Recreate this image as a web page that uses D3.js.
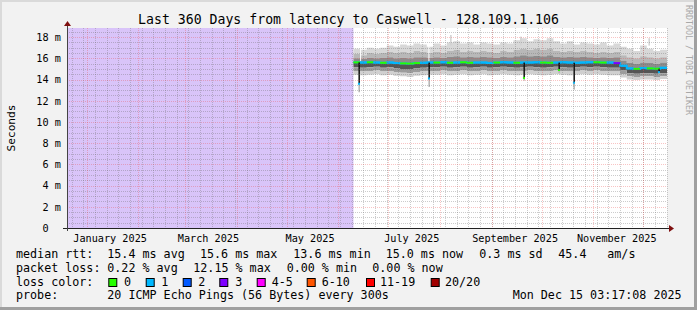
<!DOCTYPE html>
<html lang="en">
<head>
<meta charset="UTF-8">
<script src="https://d3js.org/d3.v7.min.js"></script>
<title>Last 360 Days from latency to Caswell</title>
<style>
  body { margin: 0; background: #f2f2f2; overflow: hidden; }
  text { font-family: "DejaVu Sans Mono", monospace; fill: #000; }
</style>
</head>
<body>
<div id="chart"></div>
<script>
// ---- values ----
var title = "Last 360 Days from latency to Caswell - 128.109.1.106";
var timeStart = new Date(Date.UTC(2024, 11, 20, 3, 17, 8));
var timeEnd = new Date(Date.UTC(2025, 11, 15, 3, 17, 8));
var firstSample = new Date(Date.UTC(2025, 5, 10));   // no data (purple) before this
var sampleStepDays = 4;

// one value per 4-day sample, Jun 10 .. Dec 11 (ms)
var medianMs = [15.62,15.6,15.63,15.6,15.58,15.6, 15.55,15.52,15.5,15.55,15.58,15.6,
  15.6,15.62,15.58,15.6,15.63,15.58, 15.6,15.6,15.57,15.6,15.62,15.6,
  15.58,15.6,15.6,15.62,15.6,15.58, 15.6,15.62,15.6,15.58,15.6,15.62,
  15.63,15.6,15.6,15.55,15.3,15.05, 15.0,15.08,15.05,15.02,15.1];
var lossPings = [0,1,0,1,0,1, 1,0,0,0,1,1, 0,1,0,1,0,0, 1,1,1,0,1,1,
  0,1,1,1,0,0, 1,1,1,1,1,1, 0,0,1,3,1,1, 0,1,0,0,1];
var maxMs = [16.9,16.8,17.0,16.9,17.0,17.2, 17.1,17.3,17.2,17.4,17.3,17.1,
  17.4,17.2,17.5,17.6,17.4,17.5, 17.3,17.5,17.4,17.3,17.5,17.4,
  17.7,17.9,17.6,17.8,17.7,17.9, 17.6,17.4,17.6,17.3,17.5,17.4,
  17.3,17.5,17.2,17.4,17.1,16.9, 16.7,17.2,16.9,16.7,16.8];
var p90Ms = [16.4,16.3,16.5,16.4,16.5,16.6, 16.5,16.6,16.5,16.7,16.6,16.5,
  16.6,16.5,16.7,16.8,16.6,16.7, 16.6,16.7,16.6,16.5,16.7,16.6,
  16.8,16.9,16.8,16.9,16.8,16.9, 16.7,16.6,16.7,16.6,16.7,16.6,
  16.5,16.6,16.5,16.6,16.3,16.1, 16.0,16.2,16.1,16.0,16.1];
var p75Ms = [16.0,15.95,16.05,16.0,16.05,16.1, 16.0,16.05,16.0,16.1,16.1,16.05,
  16.1,16.05,16.15,16.2,16.1,16.15, 16.1,16.15,16.1,16.05,16.15,16.1,
  16.2,16.3,16.2,16.25,16.2,16.3, 16.15,16.1,16.15,16.1,16.15,16.1,
  16.05,16.1,16.05,16.1,15.8,15.55, 15.5,15.6,15.55,15.5,15.6];
var p25Ms = [15.15,15.1,15.15,15.2,15.1,15.15, 15.05,15.0,15.0,15.05,15.1,15.15,
  15.15,15.2,15.1,15.15,15.2,15.1, 15.15,15.2,15.1,15.15,15.2,15.15,
  15.1,15.15,15.2,15.15,15.1,15.15, 15.2,15.15,15.1,15.15,15.2,15.15,
  15.2,15.15,15.1,15.1,14.85,14.6, 14.55,14.6,14.6,14.55,14.6];
var p10Ms = [14.8,14.75,14.8,14.85,14.75,14.8, 14.7,14.65,14.6,14.7,14.75,14.8,
  14.8,14.85,14.75,14.8,14.85,14.75, 14.8,14.85,14.75,14.8,14.85,14.8,
  14.75,14.8,14.85,14.8,14.75,14.8, 14.85,14.8,14.75,14.8,14.85,14.8,
  14.85,14.8,14.75,14.75,14.5,14.3, 14.25,14.3,14.3,14.25,14.3];
var minMs = [14.45,14.4,14.45,14.5,14.4,14.45, 14.35,14.3,14.25,14.35,14.4,14.45,
  14.45,14.5,14.4,14.45,14.5,14.4, 14.45,14.5,14.4,14.45,14.5,14.45,
  14.4,14.45,14.5,14.45,14.4,14.45, 14.5,14.45,14.4,14.45,14.5,14.45,
  14.5,14.45,14.4,14.4,14.2,14.0, 13.95,14.0,14.0,13.95,14.05];

// short downward dips of the median
var dipDates = ["2025-06-13","2025-07-25","2025-09-20","2025-10-11","2025-10-20","2025-12-10"];
var dipLowMs = [13.6, 14.1, 14.15, 14.9, 13.7, 14.7];
var dipTailMs = [12.8, 13.3, 13.9, 14.6, 13.05, 14.4];
var dipLoss = [1, 1, 0, 0, 1, 1];
// narrow upward peaks of the smoke
var peakDates = ["2025-08-07","2025-09-18","2025-12-04"];
var peakMs = [18.2, 18.05, 17.9];
// single missing pixels in the smoke
var gapDates = ["2025-06-14","2025-07-25"];

var yTicks = [0,2,4,6,8,10,12,14,16,18];
var yMax = 18.86;

var lossLabels = ["0","1","2","3","4-5","6-10","11-19","20/20"];
var lossColors = ["#26ff00","#00b8ff","#0059ff","#7e00ff","#ff00ff","#ff5500","#ff0000","#a10000"];
var rttStats = ["15.4 ms avg","15.6 ms max","13.6 ms min","15.0 ms now","0.3 ms sd","45.4","am/s"];
var lossStats = ["0.22 % avg","12.15 % max","0.00 % min","0.00 % now"];
var probeText = "20 ICMP Echo Pings (56 Bytes) every 300s";
var stampText = "Mon Dec 15 03:17:08 2025";

// ---- layout ----
var W = 697, H = 310;
var plotL = 67, plotR = 667, plotT = 28, plotB = 228;

var svg = d3.select("#chart").append("svg")
  .attr("width", W).attr("height", H);

// frame
svg.append("rect").attr("width", W).attr("height", H).attr("fill", "#f2f2f2");
svg.append("rect").attr("x", 0).attr("y", 0).attr("width", W).attr("height", 2).attr("fill", "#dadada");
svg.append("rect").attr("x", 0).attr("y", 0).attr("width", 2).attr("height", H).attr("fill", "#dadada");
svg.append("rect").attr("x", W - 3).attr("y", 0).attr("width", 3).attr("height", H).attr("fill", "#a0a0a0");
svg.append("rect").attr("x", 0).attr("y", H - 3).attr("width", W).attr("height", 3).attr("fill", "#a0a0a0");

var x = d3.scaleUtc().domain([timeStart, timeEnd]).range([plotL, plotR]);
var y = d3.scaleLinear().domain([0, yMax]).range([plotB, plotT]);

var dates = medianMs.map(function(d, i) { return d3.utcDay.offset(firstSample, i * sampleStepDays); });
var samples = medianMs.map(function(d, i) {
  return {t: dates[i], med: d, loss: lossPings[i], max: maxMs[i], p90: p90Ms[i],
          p75: p75Ms[i], p25: p25Ms[i], p10: p10Ms[i], min: minMs[i]};
});
// repeat the last sample at the end time so the steps reach the right edge
var stepData = samples.concat([Object.assign({}, samples[samples.length - 1], {t: timeEnd})]);

function lossIndex(n) {
  if (n <= 3) return n;
  if (n <= 5) return 4;
  if (n <= 10) return 5;
  if (n <= 19) return 6;
  return 7;
}

// canvas
svg.append("rect").attr("x", plotL).attr("y", plotT)
  .attr("width", plotR - plotL).attr("height", plotB - plotT).attr("fill", "#ffffff");
// unknown data
svg.append("rect").attr("x", plotL).attr("y", plotT)
  .attr("width", x(firstSample) - plotL).attr("height", plotB - plotT).attr("fill", "#d9c4f9");

// smoke bands
var bands = [
  ["p90", "max", "#d8d8d8"],
  ["p75", "p90", "#b8b8b8"],
  ["med", "p75", "#8c8c8c"],
  ["p25", "med", "#555555"],
  ["p10", "p25", "#9c9c9c"],
  ["min", "p10", "#d0d0d0"]
];
bands.forEach(function(b) {
  var area = d3.area()
    .curve(d3.curveStepAfter)
    .x(function(d) { return x(d.t); })
    .y0(function(d) { return y(d[b[0]]); })
    .y1(function(d) { return y(d[b[1]]); });
  svg.append("path").datum(stepData).attr("d", area).attr("fill", b[2]);
});

// peaks
svg.selectAll(".peak").data(peakDates).enter().append("rect")
  .attr("x", function(d) { return x(new Date(d)); })
  .attr("width", 1.5)
  .attr("y", function(d, i) { return y(peakMs[i]); })
  .attr("height", function(d, i) { return y(17.2) - y(peakMs[i]); })
  .attr("fill", "#d2d2d2");

// gaps
svg.selectAll(".gap").data(gapDates).enter().append("rect")
  .attr("x", function(d) { return x(new Date(d)); })
  .attr("width", 1)
  .attr("y", y(17.6))
  .attr("height", y(15.7) - y(17.6))
  .attr("fill", "#ffffff");

// median line: step path then per-sample loss colours
var medLine = d3.line().curve(d3.curveStepAfter)
  .x(function(d) { return x(d.t); })
  .y(function(d) { return y(d.med); });
svg.append("path").datum(stepData).attr("d", medLine)
  .attr("fill", "none").attr("stroke", lossColors[1]).attr("stroke-width", 2);
svg.selectAll(".seg").data(samples).enter().append("line")
  .attr("x1", function(d) { return x(d.t); })
  .attr("x2", function(d, i) { return x(stepData[i + 1].t); })
  .attr("y1", function(d) { return y(d.med); })
  .attr("y2", function(d) { return y(d.med); })
  .attr("stroke", function(d) { return lossColors[lossIndex(d.loss)]; })
  .attr("stroke-width", 2);

// dips
var dips = dipDates.map(function(d, i) {
  var t = new Date(d);
  var s = samples[Math.max(0, d3.bisectRight(dates, t) - 1)];
  return {t: t, from: s.med, low: dipLowMs[i], tail: dipTailMs[i], loss: dipLoss[i]};
});
svg.selectAll(".diptail").data(dips).enter().append("rect")
  .attr("x", function(d) { return x(d.t); }).attr("width", 1.5)
  .attr("y", function(d) { return y(d.low); })
  .attr("height", function(d) { return y(d.tail) - y(d.low); })
  .attr("fill", "#b4b4b4");
svg.selectAll(".dip").data(dips).enter().append("rect")
  .attr("x", function(d) { return x(d.t); }).attr("width", 1.5)
  .attr("y", function(d) { return y(d.from); })
  .attr("height", function(d) { return y(d.low) - y(d.from); })
  .attr("fill", "#111111");
svg.selectAll(".dipdot").data(dips).enter().append("rect")
  .attr("x", function(d) { return x(d.t) - 0.5; }).attr("width", 2)
  .attr("y", function(d) { return y(d.low) - 1; }).attr("height", 2)
  .attr("fill", function(d) { return lossColors[lossIndex(d.loss)]; });

// grid
var minorCol = "rgba(110,110,110,0.35)", majorCol = "rgba(235,70,70,0.32)";
var grid = svg.append("g").attr("shape-rendering", "crispEdges");
var minorY = d3.range(0, yMax, 0.5).filter(function(v) { return v % 2 !== 0; });
grid.selectAll(".gy").data(minorY).enter().append("line")
  .attr("x1", plotL).attr("x2", plotR)
  .attr("y1", function(d) { return Math.round(y(d)) + 0.5; })
  .attr("y2", function(d) { return Math.round(y(d)) + 0.5; })
  .attr("stroke", minorCol).attr("stroke-dasharray", "1,1");
var weeks = d3.utcMonday.range(timeStart, timeEnd);
grid.selectAll(".gx").data(weeks).enter().append("line")
  .attr("x1", function(d) { return Math.round(x(d)) + 0.5; })
  .attr("x2", function(d) { return Math.round(x(d)) + 0.5; })
  .attr("y1", plotT).attr("y2", plotB)
  .attr("stroke", minorCol).attr("stroke-dasharray", "1,1");
grid.selectAll(".my").data(yTicks.slice(1)).enter().append("line")
  .attr("x1", plotL).attr("x2", plotR)
  .attr("y1", function(d) { return Math.round(y(d)) + 0.5; })
  .attr("y2", function(d) { return Math.round(y(d)) + 0.5; })
  .attr("stroke", majorCol).attr("stroke-dasharray", "1,1");
var months = d3.utcMonth.range(timeStart, timeEnd);
grid.selectAll(".mx").data(months).enter().append("line")
  .attr("x1", function(d) { return Math.round(x(d)) + 0.5; })
  .attr("x2", function(d) { return Math.round(x(d)) + 0.5; })
  .attr("y1", plotT).attr("y2", plotB)
  .attr("stroke", majorCol).attr("stroke-dasharray", "1,1");

// axes
var axes = svg.append("g").attr("shape-rendering", "crispEdges");
axes.append("line").attr("x1", plotL - 4).attr("x2", plotR + 3)
  .attr("y1", plotB + 0.5).attr("y2", plotB + 0.5).attr("stroke", "#222");
axes.append("line").attr("x1", plotL + 0.5).attr("x2", plotL + 0.5)
  .attr("y1", plotB + 3).attr("y2", plotT - 4).attr("stroke", "#444");
svg.append("path").attr("d", "M" + (plotL - 3) + "," + (plotT - 2) + "L" + (plotL + 4) + "," + (plotT - 2) + "L" + (plotL + 0.5) + "," + (plotT - 7) + "Z")
  .attr("fill", "#7f1010");
svg.append("path").attr("d", "M" + (plotR + 2) + "," + (plotB - 3) + "L" + (plotR + 2) + "," + (plotB + 4) + "L" + (plotR + 7) + "," + (plotB + 0.5) + "Z")
  .attr("fill", "#7f1010");

// y labels
svg.selectAll(".ylab").data(yTicks).enter().append("text")
  .attr("x", function(d) { return d === 0 ? 48.6 : 60.9; })
  .attr("y", function(d) { return y(d) + 3.8; })
  .attr("text-anchor", "end")
  .style("font-size", "10.2px")
  .text(function(d) { return d === 0 ? "0" : d + " m"; });

// x labels, every second month, centred on the 15th
var labelMonths = d3.utcMonth.every(2).range(d3.utcMonth.ceil(timeStart), timeEnd);
svg.selectAll(".xlab").data(labelMonths).enter().append("text")
  .attr("x", function(d) { return x(d3.utcDay.offset(d, 14)); })
  .attr("y", 241.5)
  .attr("text-anchor", "middle")
  .style("font-size", "10.2px")
  .text(function(d) { return d3.utcFormat("%B %Y")(d); });

// title and side texts
svg.append("text").attr("x", 348.5).attr("y", 23.5).attr("text-anchor", "middle")
  .style("font-size", "13.2px").text(title);
svg.append("text").attr("transform", "translate(15,128) rotate(-90)")
  .attr("text-anchor", "middle").style("font-size", "11.2px").text("Seconds");
svg.append("text").attr("transform", "translate(685.5,5) rotate(90)")
  .style("font-size", "8.3px").style("fill", "#a8a8a8").text("RRDTOOL / TOBI OETIKER");

// legend
var lf = "11.7px";
var rowY = [257.7, 271.6, 285.5, 299.4];
var rttX = [107.3, 200, 293.3, 385.7, 479.3, 558.3, 607.3];
var lossX = [107.3, 193.3, 286.7, 372.3];
var boxX = [108.3, 145.7, 182.7, 219.3, 256.7, 306.7, 366, 430.7];
var boxLabelX = [124, 161.3, 198.3, 235.3, 271.7, 321.7, 380, 445];
var lg = svg.append("g").style("font-size", lf);

lg.append("text").attr("x", 16).attr("y", rowY[0]).text("median rtt:");
rttStats.forEach(function(s, i) { lg.append("text").attr("x", rttX[i]).attr("y", rowY[0]).text(s); });
lg.append("text").attr("x", 16).attr("y", rowY[1]).text("packet loss:");
lossStats.forEach(function(s, i) { lg.append("text").attr("x", lossX[i]).attr("y", rowY[1]).text(s); });
lg.append("text").attr("x", 16).attr("y", rowY[2]).text("loss color:");
lossLabels.forEach(function(s, i) {
  lg.append("rect").attr("x", boxX[i] + 0.5).attr("y", 278.5).attr("width", 8).attr("height", 8)
    .attr("fill", lossColors[i]).attr("stroke", "#000").attr("stroke-width", 1);
  lg.append("text").attr("x", boxLabelX[i]).attr("y", rowY[2]).text(s);
});
lg.append("text").attr("x", 16).attr("y", rowY[3]).text("probe:");
lg.append("text").attr("x", 107.3).attr("y", rowY[3]).text(probeText);
lg.append("text").attr("x", 512.7).attr("y", rowY[3]).text(stampText);
</script>
</body>
</html>
